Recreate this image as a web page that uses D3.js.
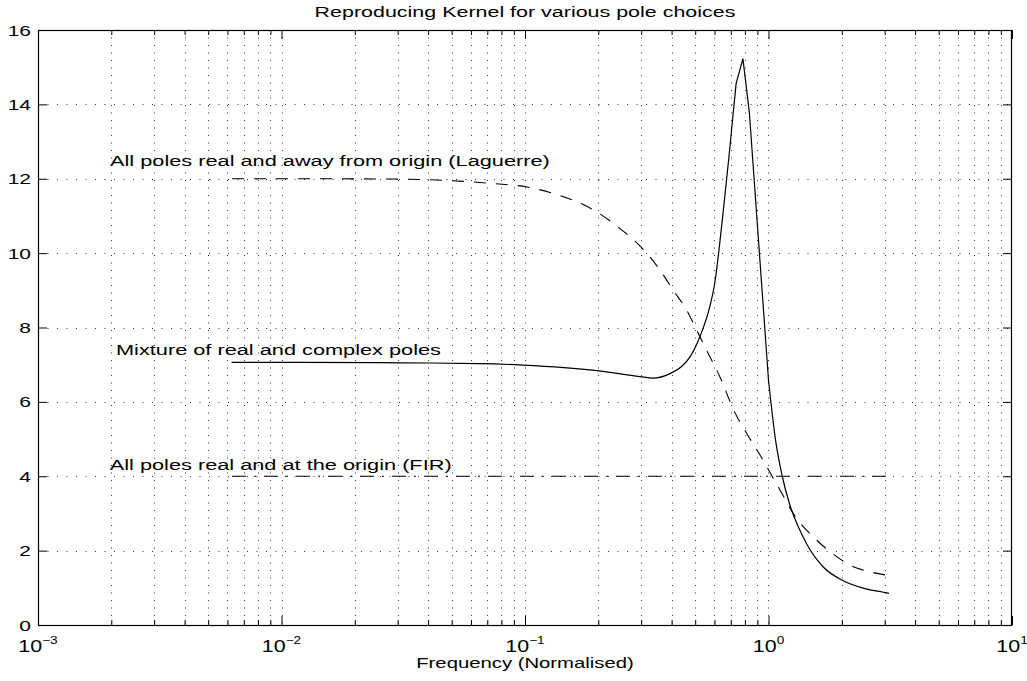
<!DOCTYPE html>
<html><head><meta charset="utf-8">
<script src="https://cdn.jsdelivr.net/npm/d3@7"></script>
<style>
html,body{margin:0;padding:0;background:#fff;}
svg{display:block;}
text{font-family:"Liberation Sans",Arial,Helvetica,sans-serif;fill:#000;}
</style>
</head><body>
<svg id="c" width="1027" height="681"></svg>
<script>
// ---- data ----
const titleText = "Reproducing Kernel for various pole choices";
const xLabelText = "Frequency (Normalised)";
const xMajorTicks = [1e-3, 1e-2, 1e-1, 1e0, 1e1];
const xTickExponents = ["\u22123", "\u22122", "\u22121", "0", "1"];
const yTicks = [0, 2, 4, 6, 8, 10, 12, 14, 16];
const yTickLabels = ["0", "2", "4", "6", "8", "10", "12", "14", "16"];

// Mixture of real and complex poles (solid)
const mixFreq = [0.00624, 0.0119, 0.0307, 0.0653, 0.098, 0.1976, 0.2965, 0.3365, 0.394, 0.44, 0.476, 0.523, 0.575, 0.6, 0.65, 0.687, 0.736, 0.785, 0.834, 1.0, 1.07, 1.139, 1.225, 1.33, 1.435, 1.679, 2.0, 2.45, 2.96, 3.126];
const mixVals = [7.06, 7.06, 7.05, 7.03, 6.99, 6.84, 6.68, 6.64, 6.76, 6.95, 7.21, 7.76, 8.58, 9.15, 11.05, 12.55, 14.55, 15.23, 13.8, 6.58, 4.95, 4.0, 3.22, 2.62, 2.18, 1.56, 1.21, 0.99, 0.88, 0.85];

// All poles real and away from origin (Laguerre) (dashed)
const lagFreq = [0.00626, 0.0119, 0.0307, 0.0741, 0.1016, 0.1267, 0.158, 0.197, 0.238, 0.2786, 0.326, 0.370, 0.4064, 0.4613, 0.507, 0.557, 0.64, 0.717, 0.814, 0.923, 1.115, 1.264, 1.578, 1.906, 2.161, 2.61, 3.126];
const lagVals = [12.0, 12.0, 11.99, 11.87, 11.78, 11.63, 11.42, 11.11, 10.73, 10.36, 9.90, 9.41, 9.0, 8.47, 7.93, 7.39, 6.59, 5.80, 5.15, 4.57, 3.63, 3.0, 2.28, 1.84, 1.61, 1.43, 1.33];

// All poles real and at the origin (FIR) (dash-dot)
const firFreq = [0.00626, 0.1, 1.0, 3.126];
const firVals = [4, 4, 4, 4];

const annotations = [
  {text: "All poles real and away from origin (Laguerre)", f: 0.001976, v: 12.34},
  {text: "Mixture of real and complex poles", f: 0.00209, v: 7.26},
  {text: "All poles real and at the origin (FIR)", f: 0.00197, v: 4.17}
];

// ---- layout ----
const svg = d3.select("#c");
const L = 38, R = 1012, T = 30, B = 625;
const SX = 1.45; // horizontal text stretch of the reference
const x = d3.scaleLog().domain([1e-3, 1e1]).range([L, R]);
const y = d3.scaleLinear().domain([0, 16]).range([B, T]);

const minorTicks = [];
for (let e = -3; e < 1; e++) for (let k = 2; k <= 9; k++) minorTicks.push(k * Math.pow(10, e));

// grid
const grid = svg.append("g").attr("stroke", "#333").attr("stroke-width", 1).attr("fill", "none");
const vgrid = minorTicks.concat(xMajorTicks.slice(1, -1));
grid.selectAll("line.v").data(vgrid).join("line")
  .attr("x1", d => Math.round(x(d)) + 0.5).attr("x2", d => Math.round(x(d)) + 0.5)
  .attr("y1", T).attr("y2", B).attr("stroke-dasharray", "1,6.5");
grid.selectAll("line.h").data(yTicks.slice(1, -1)).join("line")
  .attr("y1", d => Math.round(y(d)) + 0.5).attr("y2", d => Math.round(y(d)) + 0.5)
  .attr("x1", L).attr("x2", R).attr("stroke-dasharray", "1,8.5");

// axes ticks (inward)
function styleAxis(g){ g.select(".domain").remove(); g.selectAll("text").remove(); g.selectAll("line").attr("stroke","#000"); }
svg.append("g").attr("transform", `translate(0,${B})`)
  .call(d3.axisBottom(x).tickValues(minorTicks).tickSize(-5).tickSizeOuter(0).tickFormat("")).call(styleAxis);
svg.append("g").attr("transform", `translate(0,${B})`)
  .call(d3.axisBottom(x).tickValues(xMajorTicks).tickSize(-9).tickSizeOuter(0).tickFormat("")).call(styleAxis);
svg.append("g").attr("transform", `translate(0,${T})`)
  .call(d3.axisTop(x).tickValues(minorTicks).tickSize(-5).tickSizeOuter(0).tickFormat("")).call(styleAxis);
svg.append("g").attr("transform", `translate(0,${T})`)
  .call(d3.axisTop(x).tickValues(xMajorTicks).tickSize(-9).tickSizeOuter(0).tickFormat("")).call(styleAxis);
svg.append("g").attr("transform", `translate(${L},0)`)
  .call(d3.axisLeft(y).tickValues(yTicks).tickSize(-9).tickSizeOuter(0).tickFormat("")).call(styleAxis);
svg.append("g").attr("transform", `translate(${R},0)`)
  .call(d3.axisRight(y).tickValues(yTicks).tickSize(-9).tickSizeOuter(0).tickFormat("")).call(styleAxis);

// box
svg.append("rect").attr("x", L + 0.5).attr("y", T + 0.5).attr("width", R - L - 1).attr("height", B - T)
  .attr("fill", "none").attr("stroke", "#000").attr("stroke-width", 1.2);

// curves
const lineLin = d3.line().x(d => x(d[0])).y(d => y(d[1]));
const lineSmooth = d3.line().x(d => x(d[0])).y(d => y(d[1])).curve(d3.curveMonotoneX);

svg.append("path").datum(d3.zip(lagFreq, lagVals)).attr("d", lineSmooth)
  .attr("fill", "none").attr("stroke", "#000").attr("stroke-width", 1.1).attr("stroke-dasharray", "12,10");
svg.append("path").datum(d3.zip(firFreq, firVals)).attr("d", lineLin)
  .attr("fill", "none").attr("stroke", "#000").attr("stroke-width", 1.1).attr("stroke-dasharray", "14,8,2,8");

// solid: smooth flanks, sharp sampled peak
const mix = d3.zip(mixFreq, mixVals);
const iA = mixFreq.indexOf(0.736), iB = mixFreq.indexOf(1.0);
const dMix = lineSmooth(mix.slice(0, iA + 1)) + lineLin(mix.slice(iA, iB + 1)) + lineSmooth(mix.slice(iB));
svg.append("path").attr("d", dMix)
  .attr("fill", "none").attr("stroke", "#000").attr("stroke-width", 1.2).attr("stroke-linejoin", "miter");

// text helper
function stretchedText(px, py, str, size, anchor){
  return svg.append("text").attr("transform", `translate(${px},${py}) scale(${SX},1)`)
    .attr("font-size", size).attr("text-anchor", anchor || "start").text(str);
}

// y tick labels
yTicks.forEach((v, i) => stretchedText(L - 7, y(v) + 5.5, yTickLabels[i], 14.5, "end"));

// x tick labels 10^n
xMajorTicks.forEach((v, i) => {
  const t = svg.append("text").attr("transform", `translate(${x(v)},652) scale(1.3,1)`)
    .attr("text-anchor", "middle").attr("font-size", 16.5);
  t.append("tspan").text("10");
  t.append("tspan").attr("font-size", 10.5).attr("dy", -8.5).text(xTickExponents[i]);
});

// title & x label
stretchedText((L + R) / 2, 17, titleText, 14.8, "middle");
stretchedText((L + R) / 2, 668, xLabelText, 14, "middle");

// annotations
annotations.forEach(a => stretchedText(x(a.f), y(a.v), a.text, 15, "start"));
</script>
</body></html>
